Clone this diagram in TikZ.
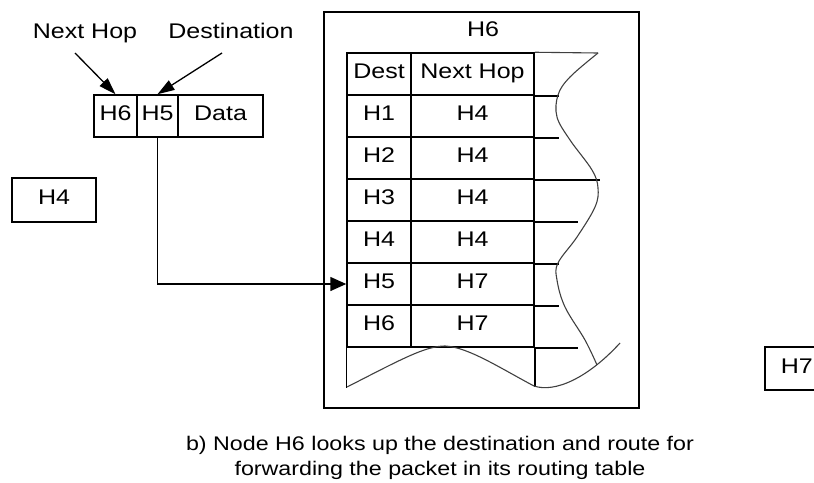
\documentclass[tikz,border=0pt]{standalone}
\usepackage{fontspec}
\setmainfont{Liberation Sans}[FakeStretch=1.18]
\usetikzlibrary{arrows.meta}
\begin{document}
\begin{tikzpicture}[x=1pt,y=-1pt,
  every node/.style={font=\fontsize{21.2}{25}\selectfont},
  cell/.style={draw, line width=1.5pt, inner sep=0pt, text height=15pt, text depth=6pt},
  lbl/.style={inner sep=0pt},
  conn/.style={line width=1.5pt},
  wave/.style={draw=black!75, line width=1.1pt},
  stub/.style={line width=1.5pt}]
\useasboundingbox (0,0) rectangle (814,482);
\clip (0,0) rectangle (814,482);
% labels
\node[lbl, anchor=base] (lnh) at (85,38) {Next Hop};
\node[lbl, anchor=base] (ldst) at (231,38) {Destination};
% packet
\node[cell, minimum width=43pt, minimum height=42pt] (p6) at (115.5,116) {H6};
\node[cell, minimum width=41pt, minimum height=42pt] (p5) at (157.5,116) {H5};
\node[cell, minimum width=85pt, minimum height=42pt] (pd) at (220.5,116) {Data};
% hosts
\node[cell, minimum width=84pt, minimum height=44pt] (h4) at (54,200) {H4};
\node[cell, anchor=west, minimum height=43pt, inner xsep=16pt] (h7) at (764,368.5) {H7};
% H6 box
\node[draw, line width=1.5pt, inner sep=0pt, minimum width=315pt, minimum height=396pt] (h6box) at (481.5,210) {};
\node[lbl, anchor=base] (h6t) at (483,36) {H6};
% table
\foreach \d/\n [count=\i from 0] in {Dest/Next Hop,H1/H4,H2/H4,H3/H4,H4/H4,H5/H7,H6/H7} {
  \node[cell, minimum width=64pt, minimum height=42pt] (d\i) at (379,74+42*\i) {\d};
  \node[cell, minimum width=123pt, minimum height=42pt] (n\i) at (472.5,74+42*\i) {\n};
}
\draw[stub] (d6.south west) -- ++(0,40);
\draw[stub] (n6.south east) -- ++(0,39);
\draw[stub] (n0.south east) -- ++(24,0);
\draw[stub] (n1.south east) -- ++(24,0);
\draw[stub] (n2.south east) -- ++(65,0);
\draw[stub] (n3.south east) -- ++(43,0);
\draw[stub] (n4.south east) -- ++(24,0);
\draw[stub] (n5.south east) -- ++(24,0);
\draw[stub] (n6.south east) -- ++(43,0);
% wavy edges
\draw[wave] (n0.north east) -- (598,53);
\draw[wave] plot[smooth, tension=0.6] coordinates {(598,53) (570,77) (558,95) (557,117) (570,140) (592,170) (598,188) (595,207) (577,237) (558,263) (557,280) (565,307) (585,340) (597,365)};
\draw[wave] (347,387) .. controls (400,360) and (425,346) .. (445,346) .. controls (468,347) and (500,368) .. (534,386) .. controls (555,393) and (588,378) .. (620,343);
% arrows
\coordinate (anh) at (75,53);
\coordinate (adst) at (222,53);
\draw[conn, line width=1.3pt, -{Triangle[length=17pt,width=11pt]}] (anh) -- (p6.north);
\draw[conn, line width=1.3pt, -{Triangle[length=17pt,width=11pt]}] (adst) -- (p5.north);
\draw[conn, -{Triangle[length=16pt,width=14pt]}] (p5.south) |- (d5.west);
% caption
\node[align=center, font=\fontsize{19.7}{25}\selectfont] (cap) at (440,458) {b) Node H6 looks up the destination and route for\\forwarding the packet in its routing table};
\end{tikzpicture}
\end{document}
